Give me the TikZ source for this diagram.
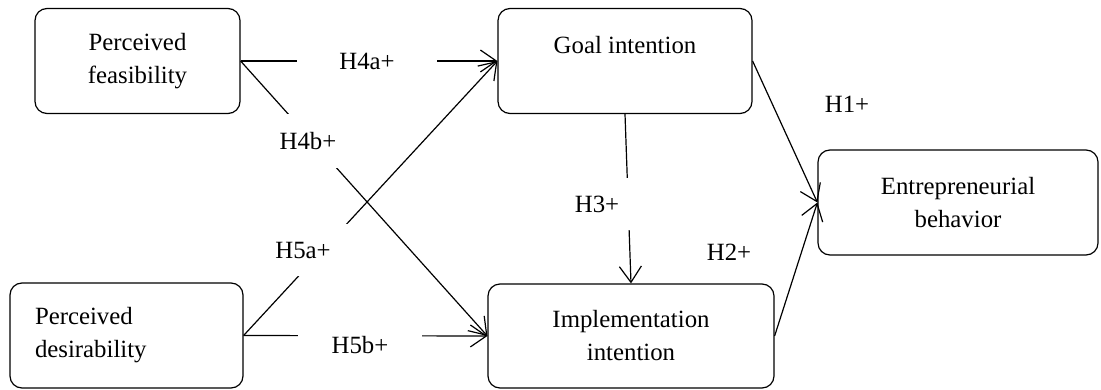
\documentclass[tikz,border=0pt]{standalone}
\usepackage{fontspec}
\setmainfont{Liberation Serif}
\usetikzlibrary{arrows.meta}

\begin{document}
\begin{tikzpicture}[x=0.5pt, y=-0.5pt, line width=0.6pt,
  >={Straight Barb[length=8pt, width=11pt]},
  every node/.style={font=\fontsize{12.4pt}{16.5pt}\selectfont},
  construct/.style={draw, rounded corners=6pt, align=center, minimum height=52.5pt},
  hyp/.style={fill=white, inner sep=0pt}]
\useasboundingbox (0,0) rectangle (1101,390);
% constructs
\node[construct, minimum width=102.5pt] (pf) at (137.5,61) {Perceived\\feasibility};
\node[construct, minimum width=127pt] (gi) at (625,61) {Goal intention\\~};
\node[construct, minimum width=140pt] (eb) at (958,202.5) {Entrepreneurial\\behavior};
\node[construct, align=left, text width=91.5pt, inner xsep=12.5pt, inner ysep=9pt] (pd) at (126.5,335.5) {Perceived\\desirability\\[6pt]};
\node[construct, minimum width=143pt, minimum height=52pt] (ii) at (631,336) {Implementation\\intention};
% paths
\draw[->] (pf.east) -- (gi.west);
\draw[->] (pf.east) -- (ii.west);
\draw[->] (pd.east) -- (gi.west);
\draw[->] (pd.east) -- (ii.west);
\draw[->] (gi.south) -- (ii.north);
\draw[->] (gi.east) -- (eb.west);
\draw[->] (ii.east) -- (eb.west);
% hypotheses
\node[hyp, inner xsep=21pt, inner ysep=4pt] (h4a) at (367,61) {H4a+};
\node[hyp, inner xsep=3pt, inner ysep=9pt] (h4b) at (308,141) {H4b+};
\node[hyp, inner xsep=9pt, inner ysep=9pt] (h5a) at (303,250) {H5a+};
\node[hyp, inner xsep=17pt, inner ysep=3pt] (h5b) at (360,345) {H5b+};
\node[hyp, inner xsep=6pt, inner ysep=9pt] (h3) at (597,204) {H3+};
\node (h1) at (847,104) {H1+};
\node (h2) at (729,252) {H2+};
\end{tikzpicture}
\end{document}
